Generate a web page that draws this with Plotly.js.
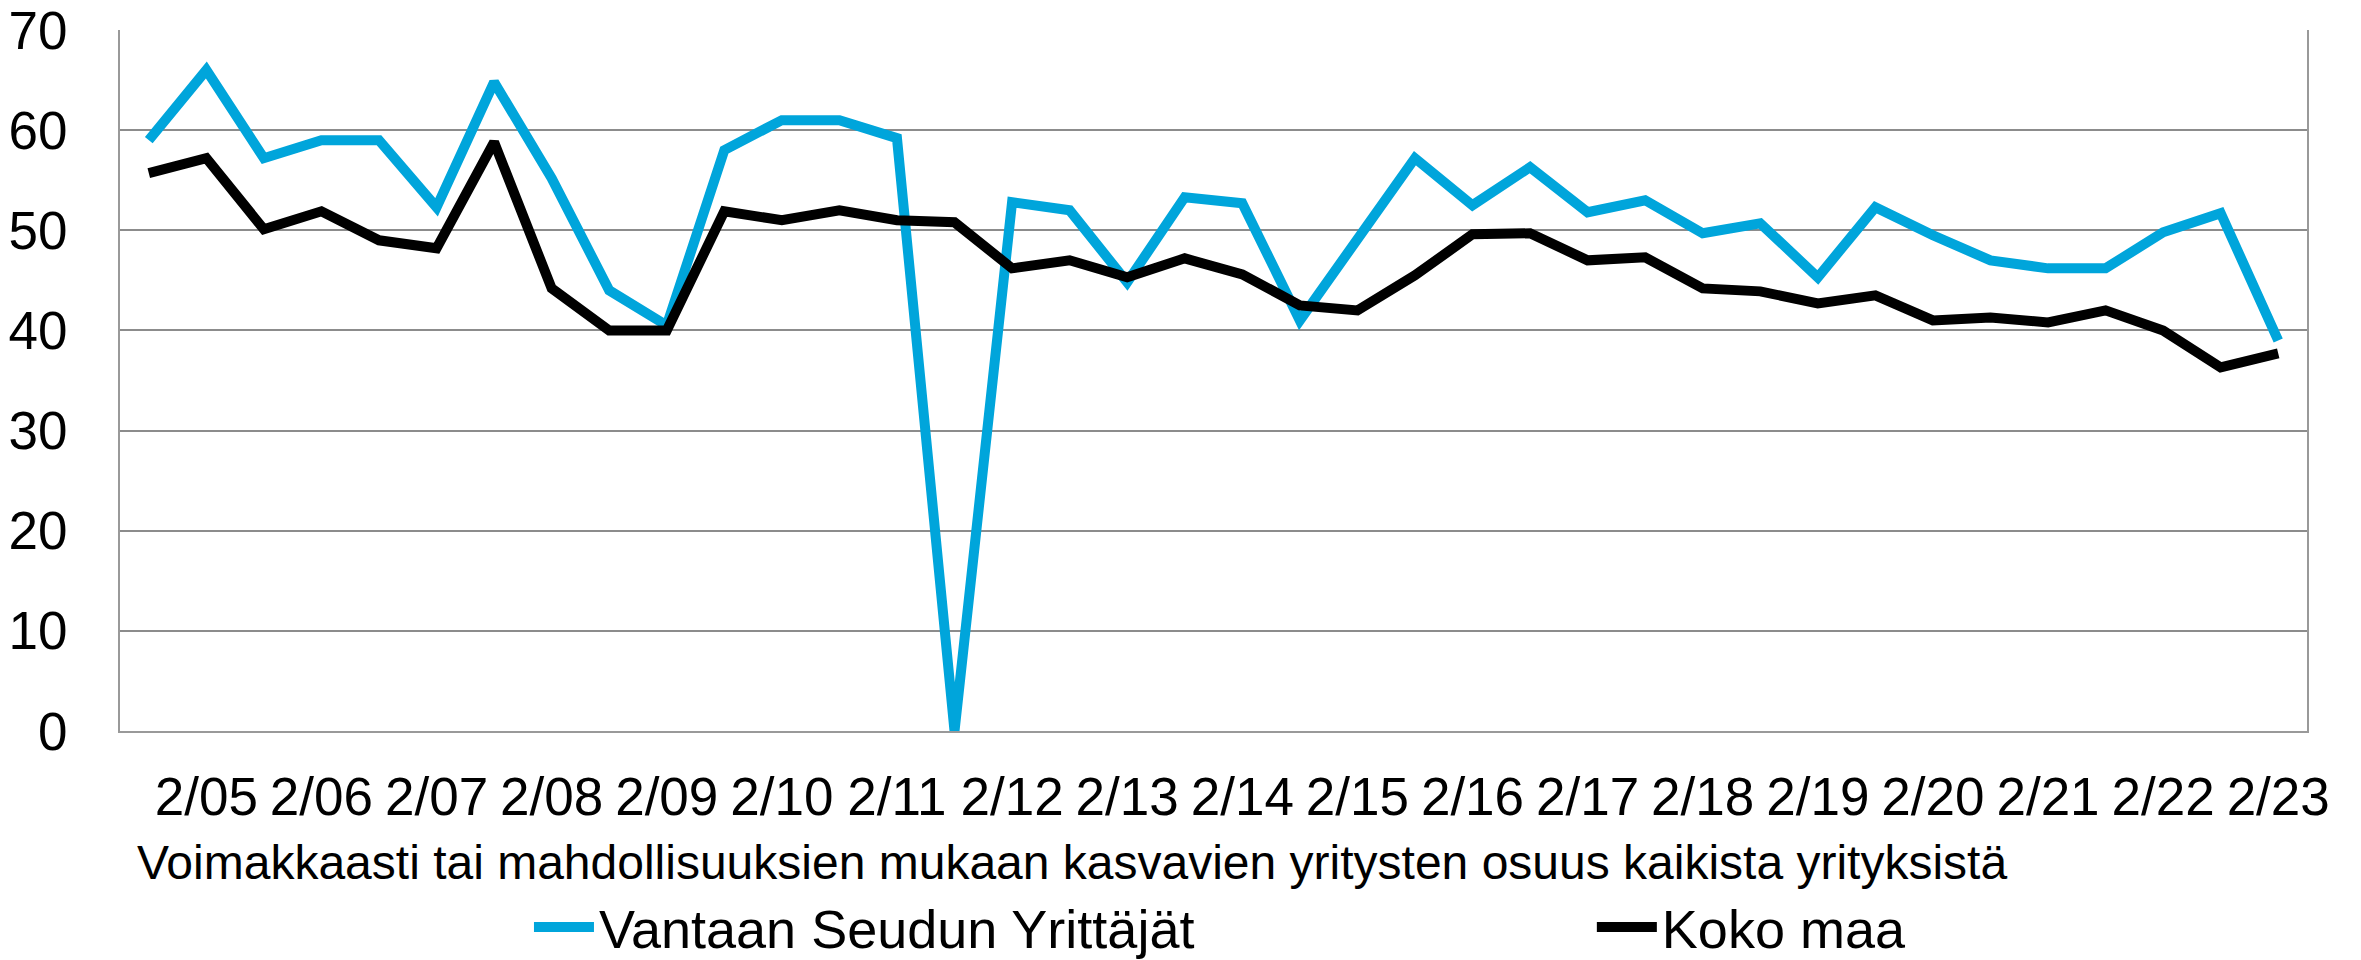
<!DOCTYPE html>
<html>
<head>
<meta charset="utf-8">
<script src="https://cdn.plot.ly/plotly-3.0.1.min.js"></script>
<style>html,body{margin:0;padding:0;background:#fff;}#chart{width:2361px;height:960px;}</style>
</head>
<body>
<div id="chart"></div>
<script>
// Survey rounds (semi-annual); only the February rounds are labelled on the axis
const categories = ["8/04","2/05","8/05","2/06","8/06","2/07","8/07","2/08","8/08","2/09","8/09","2/10","8/10","2/11","8/11","2/12","8/12","2/13","8/13","2/14","8/14","2/15","8/15","2/16","8/16","2/17","8/17","2/18","8/18","2/19","8/19","2/20","8/20","2/21","8/21","2/22","8/22","2/23"];
const tickLabels = ["2/05","2/06","2/07","2/08","2/09","2/10","2/11","2/12","2/13","2/14","2/15","2/16","2/17","2/18","2/19","2/20","2/21","2/22","2/23"];
const vantaa = [59, 66, 57.2, 59, 59, 52.3, 64.8, 55.2, 44, 40.5, 58, 61, 61, 59.2, 0, 52.8, 52, 44.8, 53.3, 52.7, 41, 49.2, 57.2, 52.5, 56.3, 51.8, 53, 49.7, 50.7, 45.3, 52.3, 49.5, 47, 46.2, 46.2, 49.8, 51.7, 39];
const kokoMaa = [55.7, 57.2, 50.1, 51.9, 49, 48.2, 58.8, 44.2, 40, 40, 51.9, 51, 52, 51, 50.8, 46.2, 47, 45.3, 47.2, 45.6, 42.5, 42, 45.5, 49.6, 49.7, 47, 47.3, 44.2, 43.9, 42.7, 43.5, 41, 41.3, 40.8, 42, 40, 36.3, 37.7];
const seriesNames = ["Vantaan Seudun Yrittäjät", "Koko maa"];
const axisTitle = "Voimakkaasti tai mahdollisuuksien mukaan kasvavien yritysten osuus kaikista yrityksistä";

const FONT = "Liberation Sans, Arial, sans-serif";
const traces = [
  {x: categories, y: vantaa, name: seriesNames[0], type: "scatter", mode: "lines",
   line: {color: "#00A5DB", width: 10, shape: "linear"}, legend: "legend"},
  {x: categories, y: kokoMaa, name: seriesNames[1], type: "scatter", mode: "lines",
   line: {color: "#000000", width: 10, shape: "linear"}, legend: "legend2"}
];
const legendCommon = {orientation: "h", xanchor: "left", yanchor: "middle", y: -0.28,
  font: {family: FONT, size: 54, color: "#000"}, itemwidth: 60, bgcolor: "rgba(0,0,0,0)"};
const layout = {
  width: 2361, height: 960,
  margin: {l: 120, r: 54, t: 30, b: 229, autoexpand: false},
  paper_bgcolor: "#ffffff", plot_bgcolor: "#ffffff",
  font: {family: FONT, color: "#000000"},
  showlegend: true,
  legend: Object.assign({}, legendCommon, {x: 0.187}),
  legend2: Object.assign({}, legendCommon, {x: 0.673}),
  xaxis: {type: "category", categoryorder: "array", categoryarray: categories,
          tickmode: "array", tickvals: tickLabels, ticktext: tickLabels,
          tickfont: {family: FONT, size: 53, color: "#000"}, tickangle: 0,
          showgrid: false, zeroline: false, showline: true, linecolor: "#999999", linewidth: 2,
          mirror: false, ticks: "", ticklabelstandoff: 18, range: [-0.5, 37.5], fixedrange: true},
  yaxis: {range: [0, 70], dtick: 10, tick0: 0, showgrid: true, gridcolor: "#8C8C8C", gridwidth: 2,
          zeroline: false, showline: true, linecolor: "#999999", linewidth: 2, mirror: true,
          ticks: "", tickfont: {family: FONT, size: 53, color: "#000"}, ticklabelstandoff: 40,
          fixedrange: true},
  annotations: [{text: axisTitle, xref: "paper", yref: "paper", x: 0.0069, xanchor: "left",
                 y: -0.187, yanchor: "middle", showarrow: false,
                 font: {family: FONT, size: 48, color: "#000"}}]
};
Plotly.newPlot("chart", traces, layout, {displayModeBar: false, staticPlot: true});
</script>
</body>
</html>
